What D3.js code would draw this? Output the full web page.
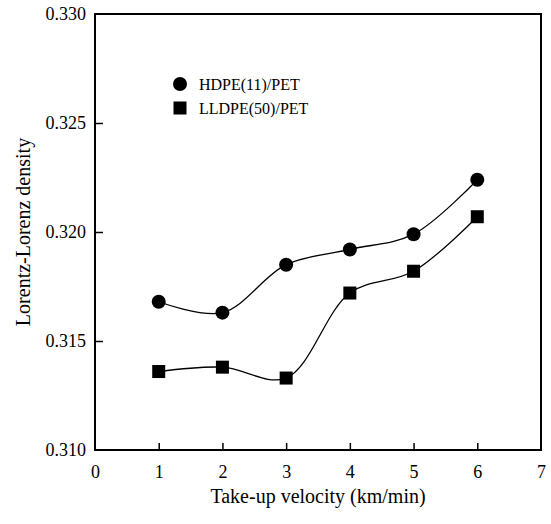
<!DOCTYPE html>
<html><head><meta charset="utf-8">
<script src="https://cdn.jsdelivr.net/npm/d3@7"></script>
<style>body{margin:0;background:#fff}svg{display:block}</style>
</head><body>
<svg id="c" width="551" height="524"></svg>
<script>
const velocity = [1, 2, 3, 4, 5, 6];
const hdpe = [0.3168, 0.3163, 0.3185, 0.3192, 0.3199, 0.3224];
const lldpe = [0.3136, 0.3138, 0.3133, 0.3172, 0.3182, 0.3207];
const xTicks = [0, 1, 2, 3, 4, 5, 6, 7];
const yTicks = [0.310, 0.315, 0.320, 0.325, 0.330];
const seriesNames = ["HDPE(11)/PET", "LLDPE(50)/PET"];

const svg = d3.select("#c");
const font = "Liberation Serif, Times New Roman, DejaVu Serif, serif";
const m = {l: 95, r: 541, t: 14, b: 450};
const x = d3.scaleLinear().domain([0, 7]).range([m.l, m.r]);
const y = d3.scaleLinear().domain([0.310, 0.330]).range([m.b, m.t]);

// frame
svg.append("rect").attr("x", m.l).attr("y", m.t).attr("width", m.r - m.l).attr("height", m.b - m.t)
  .attr("fill", "none").attr("stroke", "#000").attr("stroke-width", 2);

// x axis
const xa = svg.append("g").attr("transform", `translate(0,${m.b})`)
  .call(d3.axisBottom(x).tickValues(xTicks).tickFormat(d3.format("d")).tickSizeInner(-7).tickSizeOuter(0).tickPadding(15));
xa.select(".domain").remove();
xa.selectAll("line").attr("stroke-width", 1.5);
xa.selectAll("text").style("font-family", font).style("font-size", "18px").attr("fill", "#000");
xa.selectAll(".tick").filter(d => d === 0 || d === 7).select("line").remove();

// y axis
const ya = svg.append("g").attr("transform", `translate(${m.l},0)`)
  .call(d3.axisLeft(y).tickValues(yTicks).tickFormat(d3.format(".3f")).tickSizeInner(-8).tickSizeOuter(0).tickPadding(9));
ya.select(".domain").remove();
ya.selectAll("line").attr("stroke-width", 1.5);
ya.selectAll("text").style("font-family", font).style("font-size", "18px").attr("fill", "#000");
ya.selectAll(".tick").filter(d => d === 0.310 || d === 0.330).select("line").remove();

// axis labels
svg.append("text").attr("x", 318).attr("y", 503).attr("text-anchor", "middle")
  .style("font-family", font).style("font-size", "20px").text("Take-up velocity (km/min)");
svg.append("text").attr("transform", "translate(30,232) rotate(-90)").attr("text-anchor", "middle")
  .style("font-family", font).style("font-size", "20px").text("Lorentz-Lorenz density");

// lines
const line = d3.line().x((d, i) => x(velocity[i])).y(d => y(d)).curve(d3.curveCatmullRom.alpha(0.5));
[hdpe, lldpe].forEach(s => {
  svg.append("path").attr("d", line(s)).attr("fill", "none").attr("stroke", "#000").attr("stroke-width", 1.3);
});

// markers
svg.append("g").selectAll("circle").data(hdpe).join("circle")
  .attr("cx", (d, i) => x(velocity[i])).attr("cy", d => y(d)).attr("r", 7).attr("fill", "#000");
svg.append("g").selectAll("rect").data(lldpe).join("rect")
  .attr("x", (d, i) => x(velocity[i]) - 6.5).attr("y", d => y(d) - 6.5)
  .attr("width", 13).attr("height", 13).attr("fill", "#000");

// legend
const lg = svg.append("g");
lg.append("circle").attr("cx", 180).attr("cy", 84).attr("r", 7).attr("fill", "#000");
lg.append("rect").attr("x", 173.5).attr("y", 101.5).attr("width", 13).attr("height", 13).attr("fill", "#000");
lg.append("text").attr("x", 199).attr("y", 90).style("font-family", font).style("font-size", "16px").text(seriesNames[0]);
lg.append("text").attr("x", 199).attr("y", 114).style("font-family", font).style("font-size", "16px").text(seriesNames[1]);
</script>
</body></html>
